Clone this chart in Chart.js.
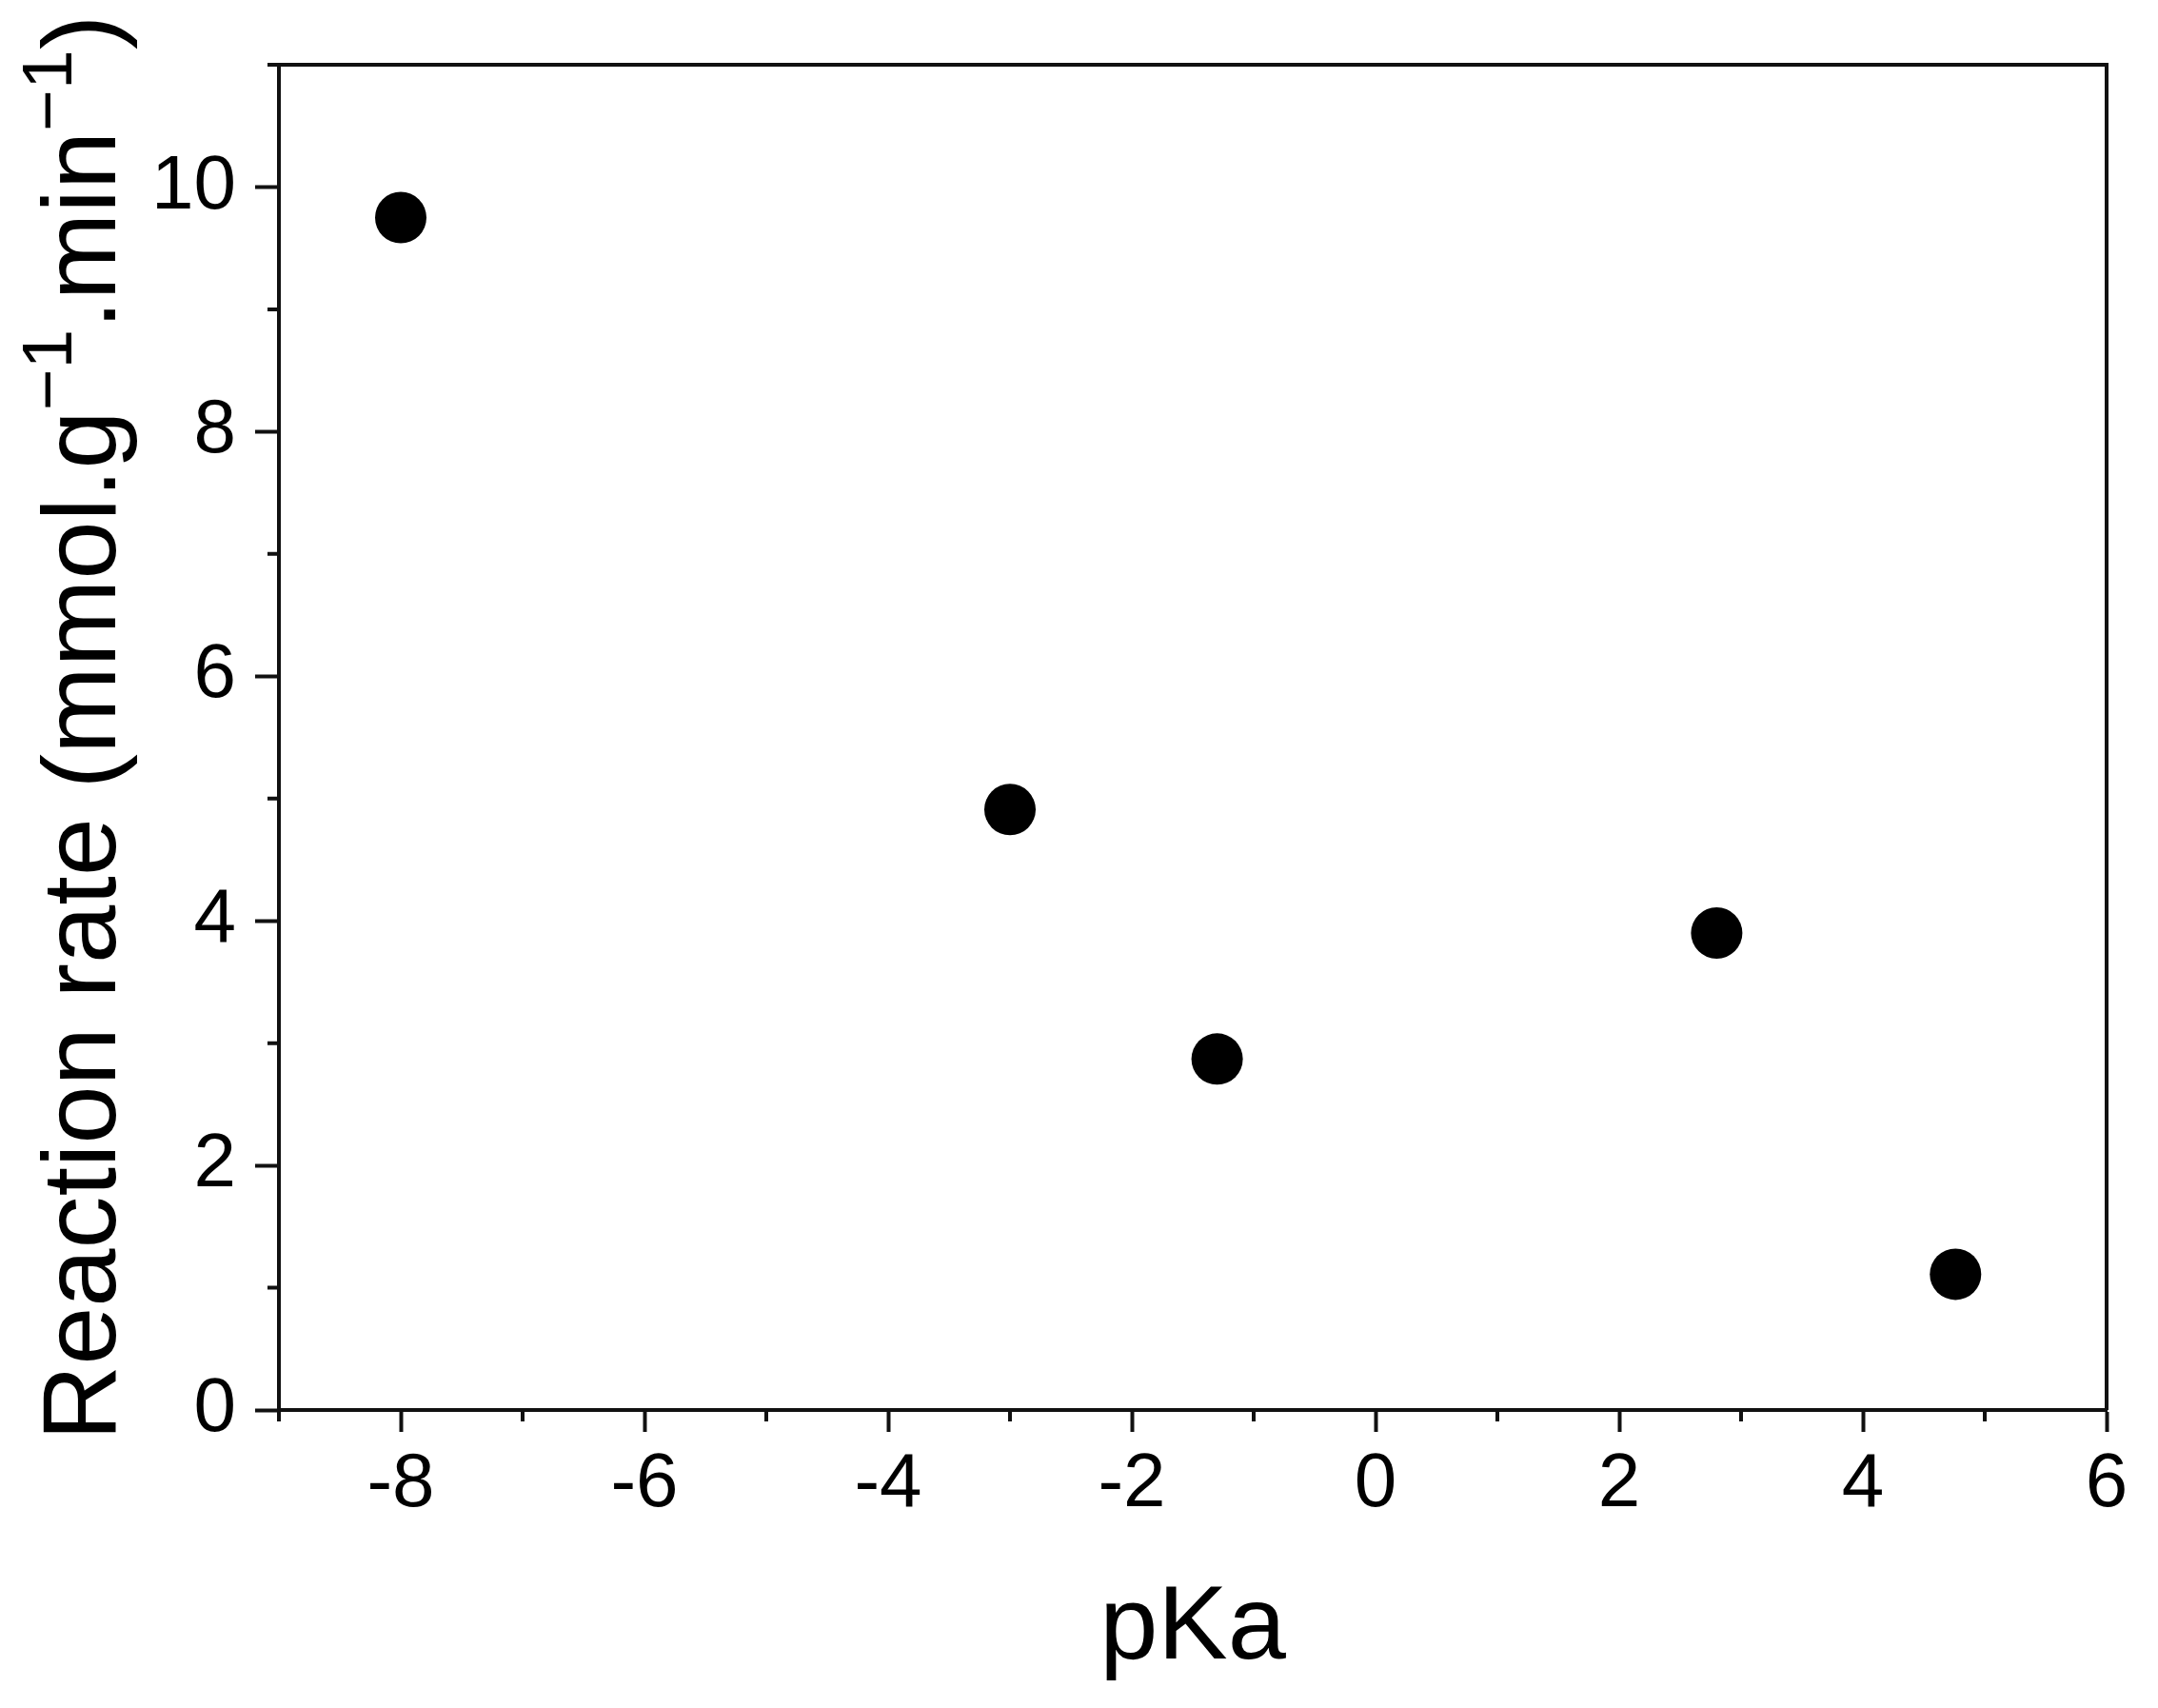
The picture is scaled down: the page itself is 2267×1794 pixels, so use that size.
<!DOCTYPE html>
<html>
<head>
<meta charset="utf-8">
<script src="https://cdn.jsdelivr.net/npm/chart.js@4.4.1/dist/chart.umd.min.js"></script>
<style>
  html, body { margin: 0; padding: 0; background: #fff; }
  canvas { display: block; }
</style>
</head>
<body>
<canvas id="myChart" width="2267" height="1794"></canvas>
<script>
// values
const pKa = [-8, -3, -1.3, 2.8, 4.76];
const rate = [9.75, 4.91, 2.87, 3.9, 1.11];

const xMajor = [-8, -6, -4, -2, 0, 2, 4, 6];
const xMinor = [-9, -7, -5, -3, -1, 1, 3, 5];
const yMajor = [0, 2, 4, 6, 8, 10];
const yMinor = [1, 3, 5, 7, 9, 11];

// y title pieces, sup = superscript
const yTitle = [
    { text: 'Reaction rate (mmol.g' },
    { text: '\u22121', sup: true },
    { text: '.min' },
    { text: '\u22121', sup: true },
    { text: ')' }
];

const fontFamily = '"Liberation Sans", Arial, sans-serif';
const ink = '#111';

// box around the plot + the short minor ticks
const framePlugin = {
    id: 'frame',
    beforeDatasetsDraw(chart) {
        const { ctx, chartArea: a, scales } = chart;
        ctx.save();
        ctx.strokeStyle = ink;
        ctx.lineWidth = 4;
        ctx.beginPath();
        ctx.moveTo(a.left, a.top);
        ctx.lineTo(a.right, a.top);
        ctx.lineTo(a.right, a.bottom);
        ctx.stroke();

        ctx.beginPath();
        xMinor.forEach(v => {
            const px = scales.x.getPixelForValue(v);
            ctx.moveTo(px, a.bottom);
            ctx.lineTo(px, a.bottom + 12);
        });
        yMinor.forEach(v => {
            const py = scales.y.getPixelForValue(v);
            ctx.moveTo(a.left, py);
            ctx.lineTo(a.left - 12, py);
        });
        ctx.stroke();
        ctx.restore();
    }
};

// y axis title with real superscripts
const yTitlePlugin = {
    id: 'yTitle',
    afterDraw(chart) {
        const { ctx, chartArea: a } = chart;
        const size = 110, supSize = 75, rise = 46;
        ctx.save();
        ctx.fillStyle = '#000';
        ctx.textBaseline = 'alphabetic';
        ctx.textAlign = 'left';
        let total = 0;
        yTitle.forEach(p => {
            ctx.font = (p.sup ? supSize : size) + 'px ' + fontFamily;
            p.w = ctx.measureText(p.text).width;
            total += p.w;
        });
        ctx.translate(121, (a.top + a.bottom) / 2 - 10);
        ctx.rotate(-Math.PI / 2);
        let x = -total / 2;
        yTitle.forEach(p => {
            ctx.font = (p.sup ? supSize : size) + 'px ' + fontFamily;
            ctx.fillText(p.text, x, p.sup ? -rise : 0);
            x += p.w;
        });
        ctx.restore();
    }
};

const data = {
    datasets: [{
        label: 'Reaction rate',
        data: pKa.map((x, i) => ({ x: x, y: rate[i] })),
        backgroundColor: '#000',
        borderWidth: 0,
        pointRadius: 27,
        pointHoverRadius: 27,
        clip: false
    }]
};

const config = {
    type: 'scatter',
    data: data,
    options: {
        responsive: false,
        animation: false,
        layout: { padding: { top: 68, right: 54, left: 0, bottom: 0 } },
        plugins: { legend: { display: false }, tooltip: { enabled: false } },
        scales: {
            x: {
                type: 'linear',
                min: -9,
                max: 6,
                afterBuildTicks: s => { s.ticks = xMajor.map(v => ({ value: v })); },
                afterFit: s => { s.height = 313; },
                border: { display: true, color: ink, width: 4 },
                grid: { drawOnChartArea: false, drawTicks: true, tickLength: 23, tickWidth: 4, tickColor: ink },
                ticks: {
                    color: '#000',
                    padding: 8,
                    maxRotation: 0,
                    font: { family: fontFamily, size: 80 }
                },
                title: {
                    display: true,
                    text: 'pKa',
                    color: '#000',
                    padding: { top: 0, bottom: 27 },
                    font: { family: fontFamily, size: 110, lineHeight: 1 }
                }
            },
            y: {
                type: 'linear',
                min: 0,
                max: 11,
                afterBuildTicks: s => { s.ticks = yMajor.map(v => ({ value: v })); },
                afterFit: s => { s.width = 293; },
                border: { display: true, color: ink, width: 4 },
                grid: { drawOnChartArea: false, drawTicks: true, tickLength: 25, tickWidth: 4, tickColor: ink },
                ticks: {
                    color: '#000',
                    padding: 20,
                    font: { family: fontFamily, size: 80 }
                },
                title: { display: false }
            }
        }
    },
    plugins: [framePlugin, yTitlePlugin]
};

const myChart = new Chart(document.getElementById('myChart'), config);
</script>
</body>
</html>
